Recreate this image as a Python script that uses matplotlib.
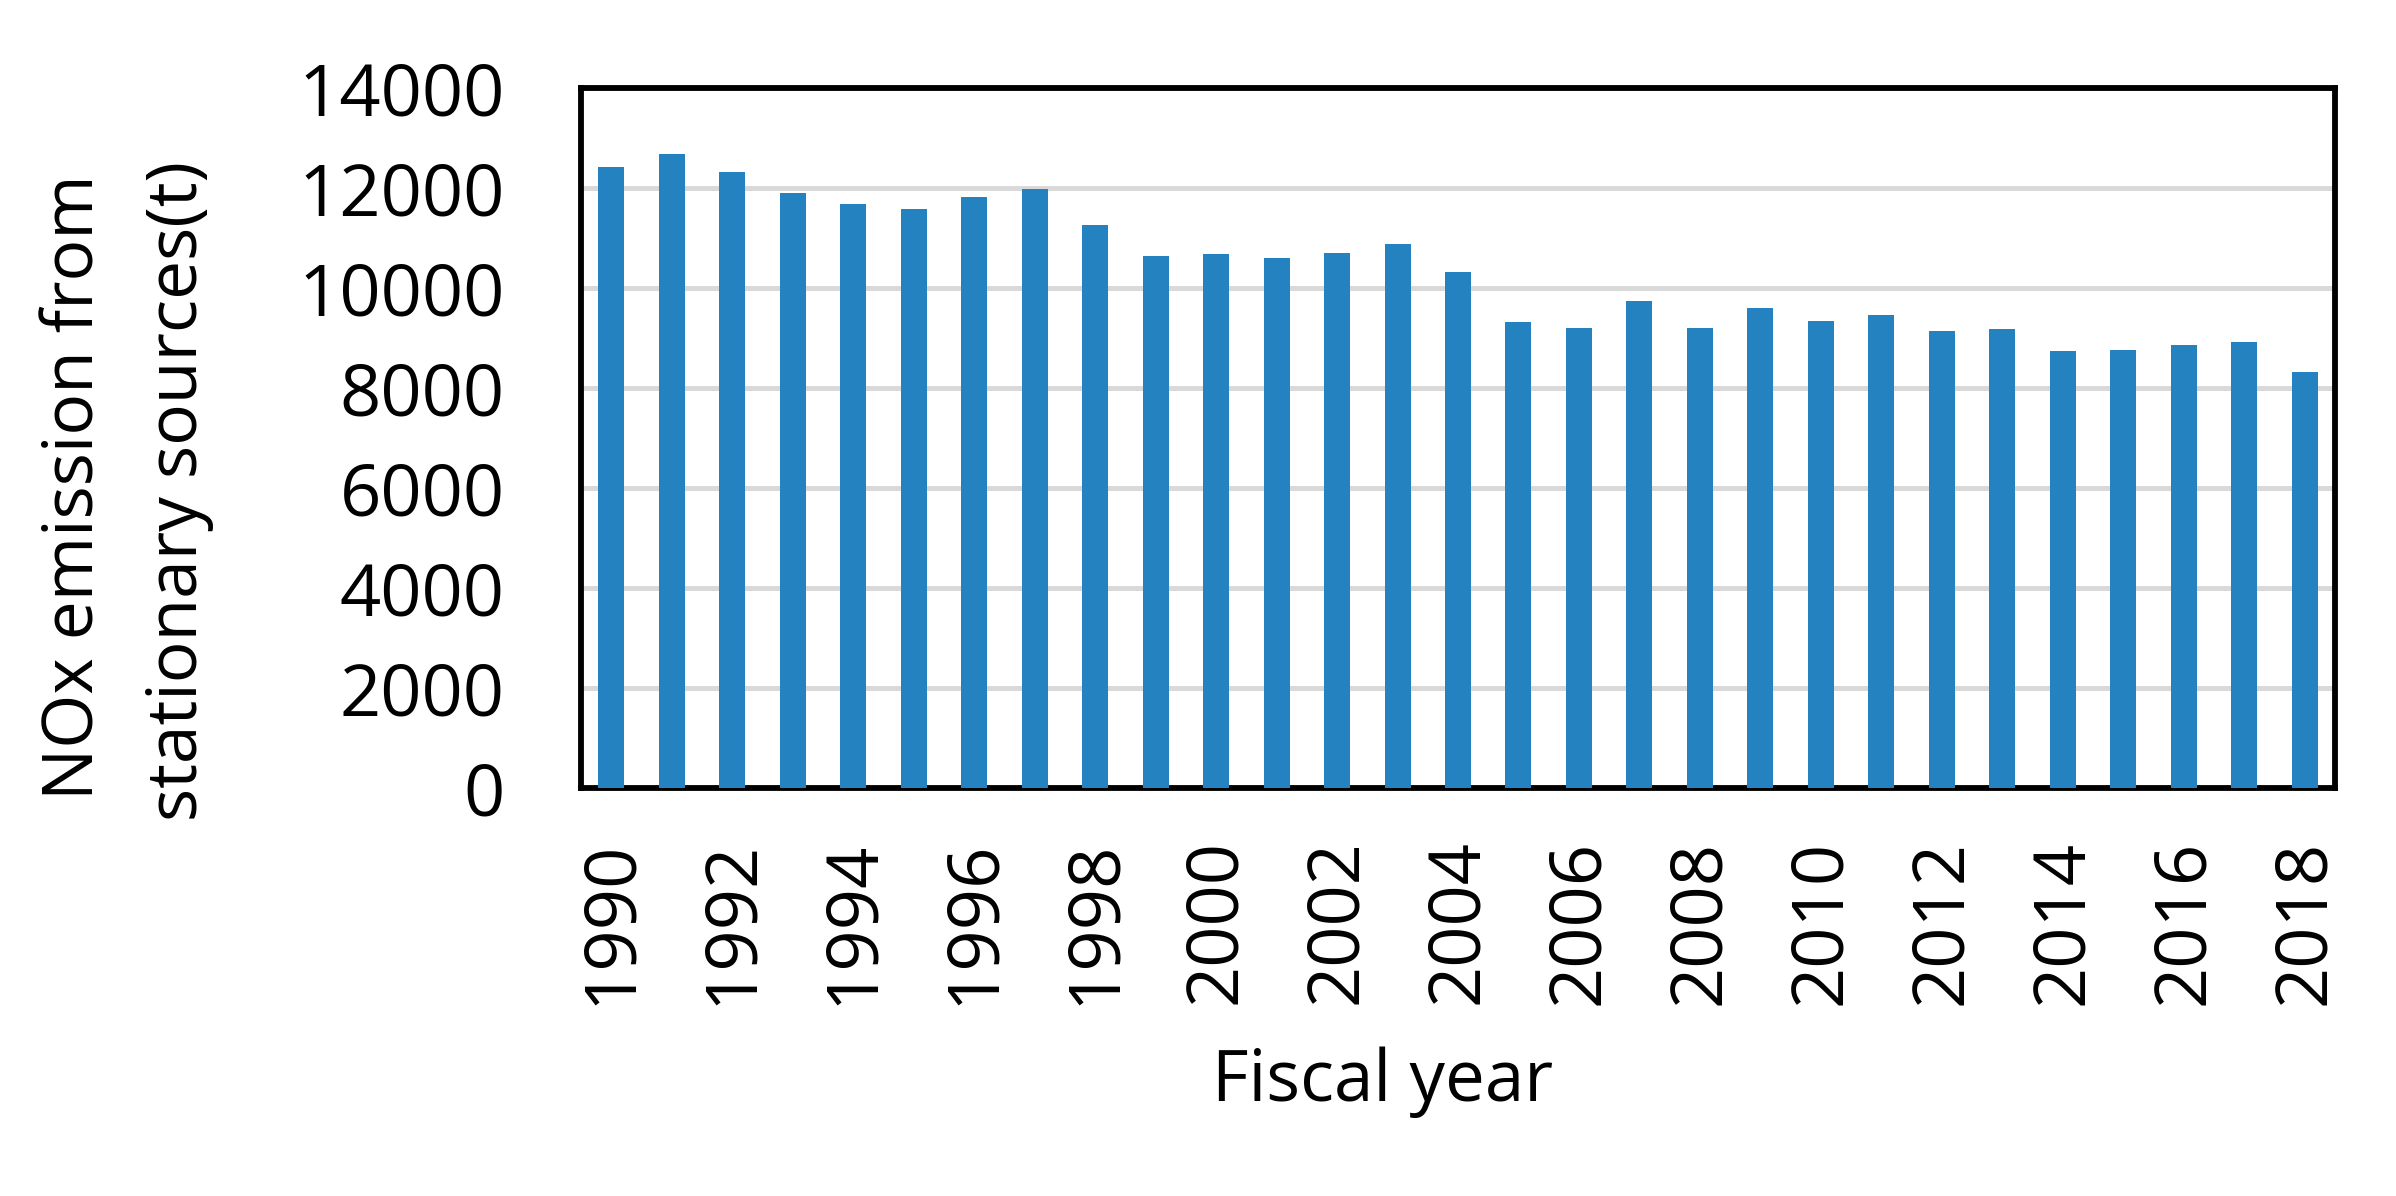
import matplotlib
matplotlib.use("Agg")
import matplotlib.pyplot as plt

years = list(range(1990, 2019))
nox = [12430, 12690, 12330, 11910, 11690, 11590, 11830, 11990, 11270, 10650,
       10690, 10610, 10710, 10890, 10330, 9330, 9210, 9750, 9210, 9610,
       9350, 9470, 9150, 9190, 8750, 8770, 8870, 8930, 8330]
yticks = [0, 2000, 4000, 6000, 8000, 10000, 12000, 14000]
tick_years = years[::2]

plt.rcParams['font.family'] = ['Open Sans', 'DejaVu Sans']

W, H = 2396, 1196
fig = plt.figure(figsize=(W / 100, H / 100), dpi=100)
ax = fig.add_axes([581 / W, 1 - 788 / H, (2335 - 581) / W, (788 - 88) / H])

x = list(range(len(years)))
ax.bar(x, nox, width=0.43, color='#2482c1', zorder=3)
ax.set_xlim(-0.5, len(years) - 0.5)
ax.set_ylim(0, 14000)
ax.set_yticks(yticks)
ax.set_yticklabels([str(v) for v in yticks], fontsize=52)
ax.set_xticks([years.index(y) for y in tick_years])
ax.set_xticklabels([str(y) for y in tick_years], rotation=90, fontsize=52)
ax.tick_params(axis='both', length=0)
ax.tick_params(axis='y', pad=55)
ax.tick_params(axis='x', pad=37)
ax.grid(axis='y', color='#d9d9d9', linewidth=3.6, zorder=0)
ax.set_axisbelow(True)
for s in ax.spines.values():
    s.set_linewidth(4.2)
    s.set_color('black')

fig.text(1383 / W, 1 - 1082 / H, 'Fiscal year', fontsize=51, ha='center', va='center')
fig.text(76 / W, 1 - 487 / H, 'NOx emission from', fontsize=50, rotation=90,
         ha='center', va='center')
fig.text(179 / W, 1 - 491 / H, 'stationary sources(t)', fontsize=50, rotation=90,
         ha='center', va='center')

fig.savefig('out.png', dpi=100)
